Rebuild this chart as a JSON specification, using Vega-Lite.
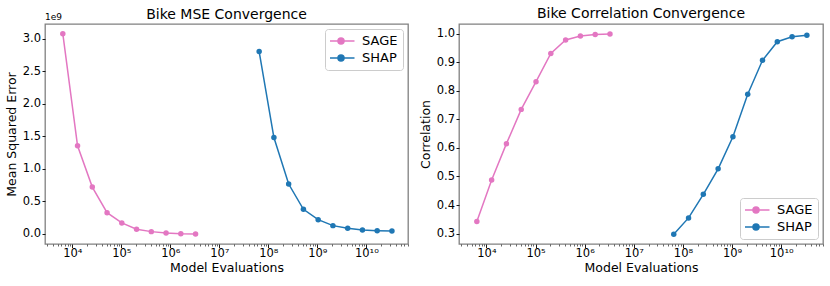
{
  "$schema": "https://vega.github.io/schema/vega-lite/v6.json",
  "padding": {"left": 4, "top": 6, "right": 8, "bottom": 2},
  "background": "white",
  "config": {
    "font": "DejaVu Sans",
    "view": {"stroke": "#808080", "strokeWidth": 1.3},
    "axis": {"grid": false, "domain": false, "tickColor": "#000", "labelColor": "#000", "titleColor": "#000", "labelFontSize": 11.5, "titleFontSize": 12.5, "titleFontWeight": "normal", "labelFont": "DejaVu Sans", "titleFont": "DejaVu Sans", "tickSize": 3, "tickWidth": 0.9, "labelPadding": 1.5, "titlePadding": 4, "labelOverlap": false},
    "axisX": {"labelPadding": 0, "titlePadding": 2},
    "title": {"fontSize": 14, "fontWeight": "normal", "font": "DejaVu Sans", "offset": 3, "color": "#000"},
    "legend": {"labelFontSize": 13, "labelFont": "DejaVu Sans", "labelColor": "#000", "strokeColor": "#cccccc", "fillColor": "white", "padding": 5, "cornerRadius": 3, "symbolType": "M-1.35,0L1.35,0M0.3,0A0.3,0.3 0 1,1 -0.3,0A0.3,0.3 0 1,1 0.3,0", "symbolSize": 400, "symbolStrokeWidth": 1.5, "labelOffset": 10, "clipHeight": 14, "rowPadding": 3, "title": null},
    "concat": {"spacing": 9}
  },
  "datasets": {
    "mse": [
      {"method": "SAGE", "evals": 6400, "value": 3.076e9},
      {"method": "SAGE", "evals": 12800, "value": 1.354e9},
      {"method": "SAGE", "evals": 25600, "value": 0.72e9},
      {"method": "SAGE", "evals": 51200, "value": 0.327e9},
      {"method": "SAGE", "evals": 102400, "value": 0.169e9},
      {"method": "SAGE", "evals": 204800, "value": 0.074e9},
      {"method": "SAGE", "evals": 409600, "value": 0.036e9},
      {"method": "SAGE", "evals": 819200, "value": 0.016e9},
      {"method": "SAGE", "evals": 1638400, "value": 0.005e9},
      {"method": "SAGE", "evals": 3276800, "value": 0.001e9},
      {"method": "SHAP", "evals": 65000000, "value": 2.80e9},
      {"method": "SHAP", "evals": 130000000, "value": 1.48e9},
      {"method": "SHAP", "evals": 260000000, "value": 0.767e9},
      {"method": "SHAP", "evals": 520000000, "value": 0.378e9},
      {"method": "SHAP", "evals": 1040000000, "value": 0.22e9},
      {"method": "SHAP", "evals": 2080000000, "value": 0.128e9},
      {"method": "SHAP", "evals": 4160000000, "value": 0.087e9},
      {"method": "SHAP", "evals": 8320000000, "value": 0.061e9},
      {"method": "SHAP", "evals": 16640000000, "value": 0.051e9},
      {"method": "SHAP", "evals": 33280000000, "value": 0.046e9}
    ],
    "corr": [
      {"method": "SAGE", "evals": 6400, "value": 0.342},
      {"method": "SAGE", "evals": 12800, "value": 0.488},
      {"method": "SAGE", "evals": 25600, "value": 0.615},
      {"method": "SAGE", "evals": 51200, "value": 0.735},
      {"method": "SAGE", "evals": 102400, "value": 0.832},
      {"method": "SAGE", "evals": 204800, "value": 0.931},
      {"method": "SAGE", "evals": 409600, "value": 0.978},
      {"method": "SAGE", "evals": 819200, "value": 0.992},
      {"method": "SAGE", "evals": 1638400, "value": 0.997},
      {"method": "SAGE", "evals": 3276800, "value": 0.999},
      {"method": "SHAP", "evals": 65000000, "value": 0.2975},
      {"method": "SHAP", "evals": 130000000, "value": 0.355},
      {"method": "SHAP", "evals": 260000000, "value": 0.4375},
      {"method": "SHAP", "evals": 520000000, "value": 0.527},
      {"method": "SHAP", "evals": 1040000000, "value": 0.639},
      {"method": "SHAP", "evals": 2080000000, "value": 0.788},
      {"method": "SHAP", "evals": 4160000000, "value": 0.907},
      {"method": "SHAP", "evals": 8320000000, "value": 0.972},
      {"method": "SHAP", "evals": 16640000000, "value": 0.9895},
      {"method": "SHAP", "evals": 33280000000, "value": 0.995}
    ],
    "note": [{"label": "1e9"}]
  },
  "resolve": {"legend": {"color": "independent"}},
  "hconcat": [
    {
      "width": 363, "height": 220,
      "title": {"text": "Bike MSE Convergence", "offset": -9},
      "layer": [
        {
          "data": {"name": "mse"},
          "mark": {"type": "line", "strokeWidth": 1.5},
          "encoding": {
            "x": {"field": "evals", "type": "quantitative", "title": "Model Evaluations",
              "scale": {"type": "log", "domain": [2773, 70800000000], "nice": false},
              "axis": {"tickCount": 100, "values": [3000,4000,5000,6000,7000,8000,9000,10000,20000,30000,40000,50000,60000,70000,80000,90000,100000,200000,300000,400000,500000,600000,700000,800000,900000,1000000,2000000,3000000,4000000,5000000,6000000,7000000,8000000,9000000,10000000,20000000,30000000,40000000,50000000,60000000,70000000,80000000,90000000,100000000,200000000,300000000,400000000,500000000,600000000,700000000,800000000,900000000,1000000000,2000000000,3000000000,4000000000,5000000000,6000000000,7000000000,8000000000,9000000000,10000000000,20000000000,30000000000,40000000000,50000000000,60000000000,70000000000],
                "labelExpr": "datum.value == 10000 ? '10⁴' : datum.value == 100000 ? '10⁵' : datum.value == 1000000 ? '10⁶' : datum.value == 10000000 ? '10⁷' : datum.value == 100000000 ? '10⁸' : datum.value == 1000000000 ? '10⁹' : datum.value == 10000000000 ? '10¹⁰' : ''",
                "tickSize": {"condition": {"test": "abs(log(datum.value)/LN10 - round(log(datum.value)/LN10)) < 0.000001", "value": 3.5}, "value": 2},
                "tickWidth": {"condition": {"test": "abs(log(datum.value)/LN10 - round(log(datum.value)/LN10)) < 0.000001", "value": 0.9}, "value": 0.6}
              }},
            "y": {"field": "value", "type": "quantitative", "title": "Mean Squared Error",
              "scale": {"domain": [-154000000, 3224000000], "nice": false, "zero": false},
              "axis": {"tickCount": 20, "values": [0, 500000000, 1000000000, 1500000000, 2000000000, 2500000000, 3000000000], "labelExpr": "format(datum.value/1e9, '.1f')"}},
            "color": {"field": "method", "type": "nominal",
              "scale": {"domain": ["SAGE", "SHAP"], "range": ["#e377c2", "#1f77b4"]},
              "legend": {"orient": "top-right", "offset": 5}}
          }
        },
        {
          "data": {"name": "mse"},
          "mark": {"type": "point", "filled": true, "size": 30, "opacity": 1},
          "encoding": {
            "x": {"field": "evals", "type": "quantitative"},
            "y": {"field": "value", "type": "quantitative"},
            "color": {"field": "method", "type": "nominal"}
          }
        },
        {
          "data": {"name": "note"},
          "mark": {"type": "text", "align": "left", "baseline": "bottom", "fontSize": 9, "dy": -2, "color": "#000"},
          "encoding": {
            "x": {"datum": 2773, "type": "quantitative"},
            "y": {"datum": 3224000000, "type": "quantitative"},
            "text": {"field": "label"}
          }
        }
      ]
    },
    {
      "width": 364, "height": 220,
      "title": "Bike Correlation Convergence",
      "data": {"name": "corr"},
      "encoding": {
        "x": {"field": "evals", "type": "quantitative", "title": "Model Evaluations",
          "scale": {"type": "log", "domain": [2773, 70800000000], "nice": false},
          "axis": {"tickCount": 100, "values": [3000,4000,5000,6000,7000,8000,9000,10000,20000,30000,40000,50000,60000,70000,80000,90000,100000,200000,300000,400000,500000,600000,700000,800000,900000,1000000,2000000,3000000,4000000,5000000,6000000,7000000,8000000,9000000,10000000,20000000,30000000,40000000,50000000,60000000,70000000,80000000,90000000,100000000,200000000,300000000,400000000,500000000,600000000,700000000,800000000,900000000,1000000000,2000000000,3000000000,4000000000,5000000000,6000000000,7000000000,8000000000,9000000000,10000000000,20000000000,30000000000,40000000000,50000000000,60000000000,70000000000],
            "labelExpr": "datum.value == 10000 ? '10⁴' : datum.value == 100000 ? '10⁵' : datum.value == 1000000 ? '10⁶' : datum.value == 10000000 ? '10⁷' : datum.value == 100000000 ? '10⁸' : datum.value == 1000000000 ? '10⁹' : datum.value == 10000000000 ? '10¹⁰' : ''",
            "tickSize": {"condition": {"test": "abs(log(datum.value)/LN10 - round(log(datum.value)/LN10)) < 0.000001", "value": 3.5}, "value": 2},
            "tickWidth": {"condition": {"test": "abs(log(datum.value)/LN10 - round(log(datum.value)/LN10)) < 0.000001", "value": 0.9}, "value": 0.6}
          }},
        "y": {"field": "value", "type": "quantitative", "title": "Correlation",
          "scale": {"domain": [0.2636, 1.034], "nice": false, "zero": false},
          "axis": {"tickCount": 20, "values": [0.3, 0.4, 0.5, 0.6, 0.7, 0.8, 0.9, 1.0], "format": ".1f"}},
        "color": {"field": "method", "type": "nominal",
          "scale": {"domain": ["SAGE", "SHAP"], "range": ["#e377c2", "#1f77b4"]},
          "legend": {"orient": "bottom-right", "offset": 5}}
      },
      "layer": [
        {"mark": {"type": "line", "strokeWidth": 1.5}},
        {"mark": {"type": "point", "filled": true, "size": 30, "opacity": 1}}
      ]
    }
  ]
}
